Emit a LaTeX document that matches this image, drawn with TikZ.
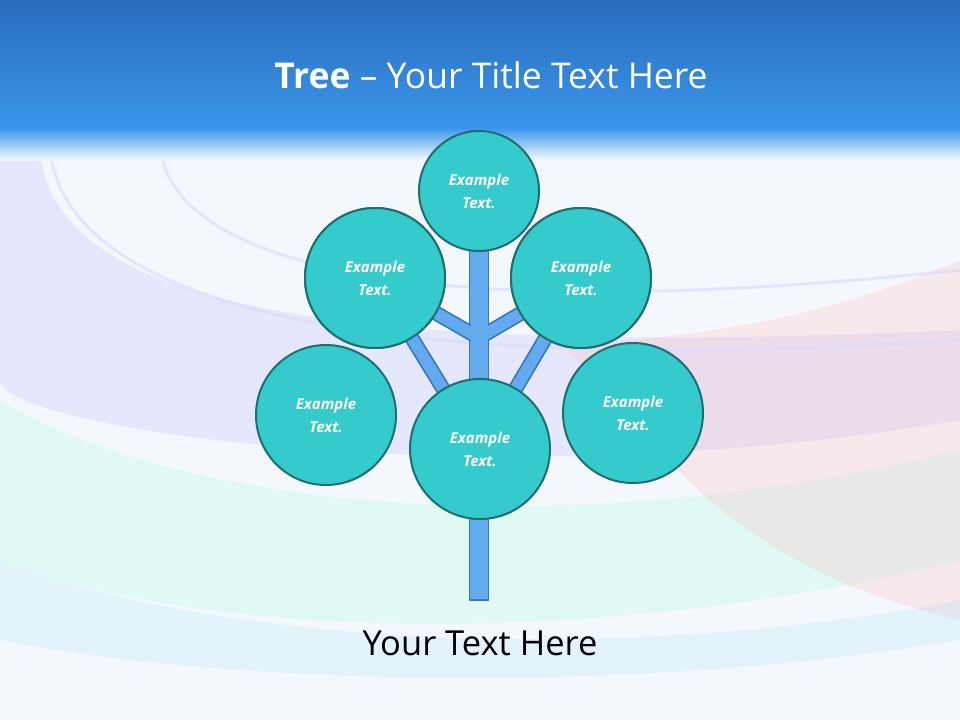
\documentclass[tikz,border=0pt]{standalone}
\usepackage{fontspec}
\setmainfont{Open Sans}
\begin{document}
\begin{tikzpicture}[x=1pt,y=-1pt,
  bub/.style={circle,fill=bubfill,draw=bubline,line width=2pt,minimum size=#1,inner sep=0pt,align=center,text=white,font=\bfseries\itshape\fontsize{15}{23}\selectfont},
  limbo/.style={line width=15pt,draw=limbline},
  limbi/.style={line width=11.5pt,draw=limbfill}]
\definecolor{bubfill}{HTML}{35CBCD}
\definecolor{bubline}{HTML}{1E6E72}
\definecolor{limbfill}{HTML}{64AAEE}
\definecolor{limbline}{HTML}{3A78BC}
\useasboundingbox (0,0) rectangle (960,720);
\fill[color={rgb,255:red,244;green,248;blue,252}] (0,0) rectangle (960,720);
% swooshes
\begin{scope}[opacity=0.22]
\fill[blue!30] (40,130) .. controls (30,300) and (300,360) .. (960,330) -- (960,420) .. controls (500,500) and (0,430) .. (0,380) -- (0,130) -- cycle;
\fill[green!30!cyan!40] (0,400) .. controls (200,520) and (600,540) .. (960,450) -- (960,560) .. controls (600,650) and (200,640) .. (0,560) -- cycle;
\fill[red!30] (960,260) .. controls (800,330) and (650,340) .. (560,345) .. controls (650,420) and (700,560) .. (960,620) -- cycle;
\fill[cyan!35] (0,560) .. controls (200,640) and (600,670) .. (960,600) -- (960,640) .. controls (600,700) and (200,680) .. (0,640) -- cycle;
\end{scope}
\draw[blue!15,line width=3pt,opacity=0.6] (160,130) .. controls (150,260) and (400,330) .. (960,270);
\draw[blue!15,line width=3pt,opacity=0.6] (50,130) .. controls (40,300) and (350,380) .. (960,340);
% header
\shade[top color={rgb,255:red,42;green,108;blue,188},bottom color={rgb,255:red,58;green,150;blue,235}] (0,0) rectangle (960,128);
\shade[top color={rgb,255:red,58;green,150;blue,235},bottom color={rgb,255:red,244;green,248;blue,252}] (0,128) rectangle (960,160);
\node[text=white,font=\fontsize{35.5}{42}\selectfont] (title) at (491,75) {\textbf{Tree} -- Your Title Text Here};
% tree
\node[draw=limbline,fill=limbfill,line width=1.5pt,minimum width=19pt,minimum height=350pt,inner sep=0pt] (trunk) at (479,425) {};
\coordinate (ul) at (474,335); \coordinate (ur) at (484,335);
\node[bub=140pt] (cl) at (375,278) {};
\node[bub=140pt] (cr) at (581,278) {};
\draw[limbo] (ul) -- (cl.center); \draw[limbi] (ul) -- (cl.center);
\draw[limbo] (ur) -- (cr.center); \draw[limbi] (ur) -- (cr.center);
\draw[limbo] (480,449) -- (cl.center); \draw[limbi] (480,449) -- (cl.center);
\draw[limbo] (480,449) -- (cr.center); \draw[limbi] (480,449) -- (cr.center);
\fill[limbfill] (470.5,300) rectangle (487.5,400);
\node[bub=140pt] (cl2) at (375,278) {Example\\Text.};
\node[bub=140pt] (cr2) at (581,278) {Example\\Text.};
\node[bub=120pt] (ct) at (479,191) {Example\\Text.};
\node[bub=140pt] (cll) at (326,415) {Example\\Text.};
\node[bub=140pt] (crr) at (633,413) {Example\\Text.};
\node[bub=140pt] (cc) at (480,449) {Example\\Text.};
\node[font=\fontsize{34.5}{40}\selectfont] (foot) at (480,643) {Your Text Here};
\end{tikzpicture}
\end{document}
